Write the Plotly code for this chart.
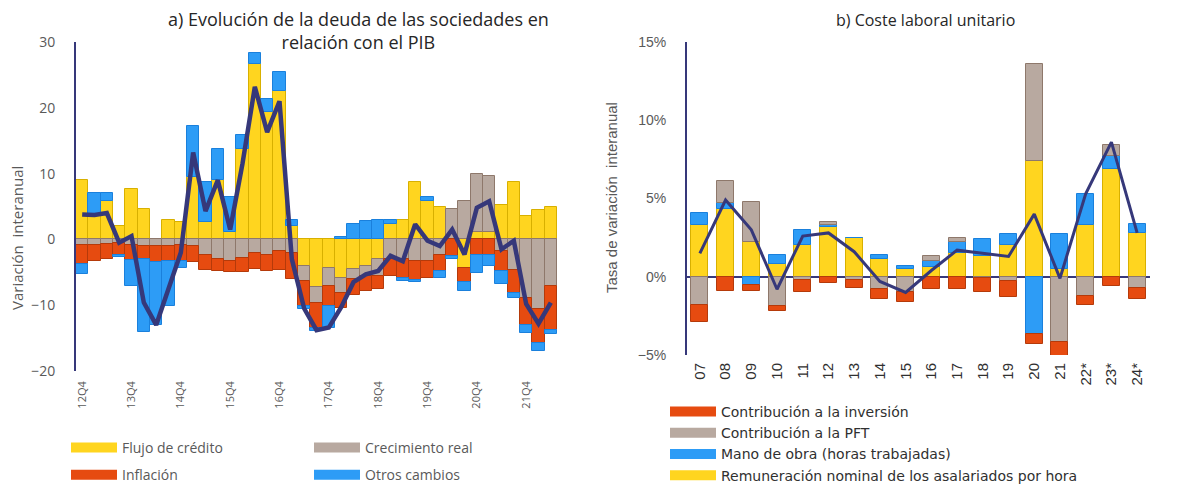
import plotly.graph_objects as go

# ---------------- Left panel data ----------------
quarters = ["12Q4", "13Q1", "13Q2", "13Q3", "13Q4", "14Q1", "14Q2", "14Q3", "14Q4",
            "15Q1", "15Q2", "15Q3", "15Q4", "16Q1", "16Q2", "16Q3", "16Q4",
            "17Q1", "17Q2", "17Q3", "17Q4", "18Q1", "18Q2", "18Q3", "18Q4",
            "19Q1", "19Q2", "19Q3", "19Q4", "20Q1", "20Q2", "20Q3", "20Q4",
            "21Q1", "21Q2", "21Q3", "21Q4", "22Q1", "22Q2"]
credit_flow = [9.0, 3.5, 5.9, 2.1, 7.6, 4.6, 0.0, 3.0, 2.6,
               9.5, 2.6, 9.0, 1.2, 13.7, 26.6, 19.3, 22.5,
               2.0, -4.0, -7.3, -4.3, -5.8, -4.5, -4.0, -3.0,
               2.3, 3.0, 8.8, 5.8, 4.9, 0.0, -4.3, 1.2,
               1.2, 5.2, 8.8, 3.6, 4.4, 4.9]
real_growth = [-0.9, -0.8, -0.7, -0.6, -0.8, -1.0, -1.0, -1.0, -0.8,
               -1.0, -2.3, -3.0, -3.3, -2.8, -2.0, -2.3, -1.8,
               -2.0, -2.3, -2.3, -2.8, -2.3, -1.5, -1.5, -2.5,
               -3.0, -3.0, -3.3, -3.3, -2.3, 4.6, 5.8, 8.8,
               8.5, -1.8, -4.6, -8.9, -10.6, -7.1]
inflation = [-2.9, -2.5, -2.3, -1.7, -2.3, -2.0, -2.5, -2.3, -2.5,
             -2.5, -2.3, -1.8, -1.7, -2.1, -2.5, -2.5, -2.8,
             -4.0, -3.8, -3.8, -3.0, -2.3, -2.5, -2.3, -2.0,
             -2.5, -2.8, -2.8, -2.5, -2.5, -2.5, -2.2, -2.4,
             -2.4, -3.0, -3.6, -4.1, -5.1, -6.6]
other_changes = [-1.5, 3.5, 1.1, -0.4, -4.0, -11.0, -9.5, -6.8, -1.0,
                 7.7, 6.2, 4.7, 5.2, 2.1, 1.7, 2.0, 3.0,
                 1.0, -0.5, -0.5, -3.3, 0.4, 2.3, 2.8, 3.0,
                 0.7, -0.5, -0.4, 0.6, -1.0, -0.5, -1.4, -2.7,
                 -1.6, -2.0, -0.7, -1.2, -1.3, -0.7]
debt_total = [3.8, 3.7, 4.0, -0.5, 0.5, -9.6, -13.0, -7.5, -2.0,
              13.2, 4.3, 9.0, 1.5, 11.5, 23.2, 16.3, 21.0,
              -3.0, -10.5, -13.8, -13.4, -10.3, -6.5, -5.3, -4.8,
              -2.5, -3.3, 2.3, -0.2, -1.0, 1.5, -2.3, 4.8,
              5.8, -1.5, -0.2, -9.8, -12.8, -9.6]
left_ticks = ["12Q4", "13Q4", "14Q4", "15Q4", "16Q4", "17Q4", "18Q4", "19Q4", "20Q4", "21Q4"]

# ---------------- Right panel data ----------------
years = ["07", "08", "09", "10", "11", "12", "13", "14", "15", "16", "17", "18",
         "19", "20", "21", "22*", "23*", "24*"]
remuneration = [3.3, 4.3, 2.2, 0.8, 2.0, 3.2, 2.5, 1.15, 0.5, 0.6, 1.5, 1.35,
                2.0, 7.4, 0.5, 3.3, 6.9, 2.8]
hours = [0.8, 0.4, -0.5, 0.6, 1.0, 0.1, 0.0, 0.25, 0.2, 0.4, 0.75, 1.05,
         0.75, -3.65, 2.25, 2.0, 0.8, 0.6]
pft = [-1.8, 1.4, 2.6, -1.9, -0.2, 0.2, -0.2, -0.8, -1.0, 0.35, 0.25, -0.1,
       -0.3, 6.2, -4.15, -1.2, 0.7, -0.7]
investment = [-1.1, -0.9, -0.4, -0.3, -0.8, -0.4, -0.5, -0.6, -0.6, -0.8, -0.8, -0.9,
              -1.0, -0.65, -0.95, -0.6, -0.6, -0.7]
ulc = [1.5, 4.9, 3.0, -0.8, 2.6, 2.8, 1.6, -0.3, -1.0, 0.4, 1.7, 1.5,
       1.3, 4.0, -0.1, 5.3, 8.6, 2.8]

# ---------------- Styles ----------------
YEL, YEL_E = "#FFD51F", "#D8B000"
GRY, GRY_E = "#B8A9A0", "#8E786B"
ORG, ORG_E = "#E64B10", "#B53A0A"
BLU, BLU_E = "#2D9CF6", "#1A80DC"
NAVY = "#36387A"
TXT = "#595959"
LFONT = "Open Sans"
RFONT = "DejaVu Sans"
AFONT = "Liberation Sans"

fig = go.Figure()


def add_bar(x, y, fill, edge, xa, ya, w):
    fig.add_trace(go.Bar(x=x, y=y, width=w, xaxis=xa, yaxis=ya, showlegend=False,
                         marker=dict(color=fill, line=dict(color=edge, width=1)),
                         hoverinfo="x+y"))


def add_key(name, fill, legend):
    fig.add_trace(go.Scatter(x=[None], y=[None], mode="lines", name=name,
                             legend=legend, legendgroup=name,
                             line=dict(color=fill, width=10),
                             xaxis="x", yaxis="y"))


# left panel bars (stack order: credit, real growth, inflation, other)
add_bar(quarters, credit_flow, YEL, YEL_E, "x", "y", 1.0)
add_bar(quarters, real_growth, GRY, GRY_E, "x", "y", 1.0)
add_bar(quarters, inflation, ORG, ORG_E, "x", "y", 1.0)
add_bar(quarters, other_changes, BLU, BLU_E, "x", "y", 1.0)
fig.add_trace(go.Scatter(x=quarters, y=debt_total, mode="lines", showlegend=False,
                         line=dict(color=NAVY, width=4.5), xaxis="x", yaxis="y"))

# right panel bars (stack order: remuneration, hours, PFT, investment)
add_bar(years, remuneration, YEL, YEL_E, "x2", "y2", 0.66)
add_bar(years, hours, BLU, BLU_E, "x2", "y2", 0.66)
add_bar(years, pft, GRY, GRY_E, "x2", "y2", 0.66)
add_bar(years, investment, ORG, ORG_E, "x2", "y2", 0.66)
fig.add_trace(go.Scatter(x=years, y=ulc, mode="lines", showlegend=False,
                         line=dict(color=NAVY, width=3), xaxis="x2", yaxis="y2"))

# legend keys
add_key("Flujo de crédito", YEL, "legend")
add_key("Inflación", ORG, "legend")
add_key("Crecimiento real", GRY, "legend3")
add_key("Otros cambios", BLU, "legend3")
add_key("Contribución a la inversión", ORG, "legend2")
add_key("Contribución a la PFT", GRY, "legend2")
add_key("Mano de obra (horas trabajadas)", BLU, "legend2")
add_key("Remuneración nominal de los asalariados por hora", YEL, "legend2")

W, H = 1188, 490


def px(v):
    return v / W


def py(v):
    return 1 - v / H


fig.update_layout(
    width=W, height=H, margin=dict(l=0, r=0, t=0, b=0, autoexpand=False),
    paper_bgcolor="white", plot_bgcolor="white",
    barmode="relative", bargap=0,
    showlegend=True,
    xaxis=dict(domain=[px(76), px(557)], anchor="y", type="category", automargin=False,
               range=[-0.5, 38.5], tickmode="array", tickvals=left_ticks,
               tickangle=-90, showgrid=False, showline=False, ticks="",
               ticklabelstandoff=7,
               tickfont=dict(family=LFONT, size=11, color=TXT)),
    yaxis=dict(domain=[py(371), py(42)], anchor="x", range=[-20, 30], dtick=10,
               automargin=False,
               showgrid=False, showline=True, linecolor=NAVY, linewidth=2,
               zeroline=True, zerolinecolor=NAVY, zerolinewidth=1.5,
               ticks="", ticklabelstandoff=16,
               tickfont=dict(family=LFONT, size=14, color=TXT)),
    xaxis2=dict(domain=[px(687), px(1150)], anchor="y2", type="category",
                automargin=False,
                range=[-0.5, 17.5], tickangle=-90, showgrid=False, showline=False,
                ticks="", ticklabelstandoff=4,
                tickfont=dict(family=AFONT, size=15, color="#303030")),
    yaxis2=dict(domain=[py(355), py(42)], anchor="x2", range=[-5, 15], dtick=5,
                automargin=False,
                ticksuffix="%", showgrid=False, showline=True, linecolor=NAVY,
                linewidth=2, zeroline=True, zerolinecolor=NAVY, zerolinewidth=1.5,
                ticks="", ticklabelstandoff=16,
                tickfont=dict(family=AFONT, size=14, color=TXT)),
    legend=dict(x=px(66), y=py(432), xanchor="left", yanchor="top",
                orientation="v", tracegroupgap=6, itemwidth=46,
                font=dict(family=LFONT, size=14, color=TXT), bgcolor="rgba(0,0,0,0)"),
    legend3=dict(x=px(309), y=py(432), xanchor="left", yanchor="top",
                 orientation="v", tracegroupgap=6, itemwidth=46,
                 font=dict(family=LFONT, size=14, color=TXT), bgcolor="rgba(0,0,0,0)"),
    legend2=dict(x=px(665), y=py(396), xanchor="left", yanchor="top",
                 orientation="v", tracegroupgap=0, itemwidth=46,
                 font=dict(family=RFONT, size=14, color="#303030"),
                 bgcolor="rgba(0,0,0,0)"),
    annotations=[
        dict(text="a) Evolución de la deuda de las sociedades en<br>relación con el PIB",
             x=px(358), y=py(5), xref="paper", yref="paper", xanchor="center",
             yanchor="top", showarrow=False, align="center",
             font=dict(family=LFONT, size=18, color="#262626")),
        dict(text="b) Coste laboral unitario",
             x=px(926), y=py(7), xref="paper", yref="paper", xanchor="center",
             yanchor="top", showarrow=False,
             font=dict(family=LFONT, size=16, color="#262626")),
        dict(text="Variación  interanual", textangle=-90,
             x=px(17), y=py(238), xref="paper", yref="paper", xanchor="center",
             yanchor="middle", showarrow=False,
             font=dict(family=LFONT, size=15, color=TXT)),
        dict(text="Tasa de variación  interanual", textangle=-90,
             x=px(612), y=py(198), xref="paper", yref="paper", xanchor="center",
             yanchor="middle", showarrow=False,
             font=dict(family=AFONT, size=15, color=TXT)),
    ],
)

fig.write_html("out.html", config={"displayModeBar": False},
               post_script="document.body.style.margin='0';document.body.style.padding='0';")
